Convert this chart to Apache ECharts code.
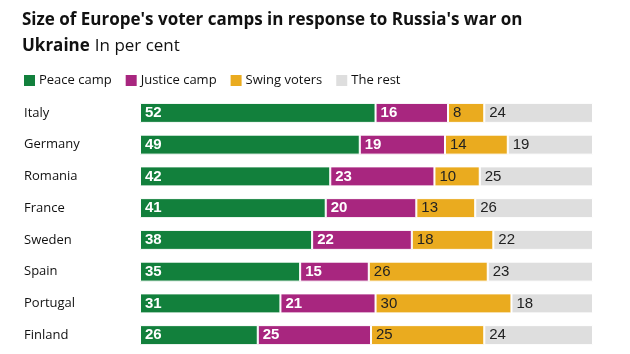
<!DOCTYPE html>
<html>
<head>
<meta charset="utf-8">
<script src="https://cdn.jsdelivr.net/npm/echarts@6/dist/echarts.min.js"></script>
<style>
  html, body { margin: 0; padding: 0; background: #fff; }
  #main { width: 630px; height: 354px; }
</style>
</head>
<body>
<div id="main"></div>
<script>
var countries = ['Italy', 'Germany', 'Romania', 'France', 'Sweden', 'Spain', 'Portugal', 'Finland'];
var peace = [52, 49, 42, 41, 38, 35, 31, 26];
var justice = [16, 19, 23, 20, 22, 15, 21, 25];
var swing = [8, 14, 10, 13, 18, 26, 30, 25];
var rest = [24, 19, 25, 26, 22, 23, 18, 24];

var names = ['Peace camp', 'Justice camp', 'Swing voters', 'The rest'];
var colors = ['#12803c', '#a8267f', '#eaab1f', '#dedede'];
var labelColors = ['#fff', '#fff', '#222', '#222'];
var labelWeights = ['bold', 'bold', 'normal', 'normal'];
var values = [peace, justice, swing, rest];

// each row is drawn as full width (rounded figures don't always add to 100)
var rowSum = [];
for (var r = 0; r < countries.length; r++) {
    rowSum.push(peace[r] + justice[r] + swing[r] + rest[r]);
}

var chart = echarts.init(document.getElementById('main'));

var series = [];
for (var i = 0; i < 4; i++) {
    var d = [];
    for (var r = 0; r < countries.length; r++) {
        d.push({value: values[i][r] / rowSum[r] * 100, raw: values[i][r]});
    }
    series.push({
        name: names[i],
        type: 'bar',
        stack: 'total',
        barWidth: 20,
        data: d,
        itemStyle: {color: colors[i], borderColor: '#fff', borderWidth: 1},
        label: {
            show: true,
            position: 'insideLeft',
            distance: 5,
            color: labelColors[i],
            fontWeight: labelWeights[i],
            fontSize: 15,
            fontFamily: 'Liberation Sans Narrow, Arial Narrow, sans-serif',
            formatter: function (p) { return p.data.raw; }
        }
    });
}

var option = {
    animation: false,
    title: {
        left: 17,
        top: 2,
        text: '{b|Size of Europe\'s voter camps in response to Russia\'s war on}\n{b|Ukraine} {n|In per cent}',
        textStyle: {
            rich: {
                b: {fontSize: 17, fontWeight: 'bold', color: '#111', fontFamily: 'Open Sans, sans-serif', lineHeight: 26},
                n: {fontSize: 17, fontWeight: 'normal', color: '#111', fontFamily: 'Open Sans, sans-serif', lineHeight: 26}
            }
        }
    },
    legend: {
        left: 17,
        top: 68,
        itemWidth: 13,
        itemHeight: 13,
        itemGap: 12,
        icon: 'rect',
        textStyle: {fontSize: 13, color: '#111', fontFamily: 'Open Sans, sans-serif', padding: [0, 0, 0, -2]},
        data: names
    },
    grid: {left: 140, right: 37, top: 97, bottom: 3},
    xAxis: {
        type: 'value',
        min: 0,
        max: 100,
        show: false
    },
    yAxis: {
        type: 'category',
        inverse: true,
        data: countries,
        axisLine: {show: false},
        axisTick: {show: false},
        axisLabel: {
            align: 'left',
            margin: 116,
            fontSize: 13,
            color: '#111',
            fontFamily: 'Open Sans, sans-serif'
        }
    },
    series: series
};

chart.setOption(option);
</script>
</body>
</html>
